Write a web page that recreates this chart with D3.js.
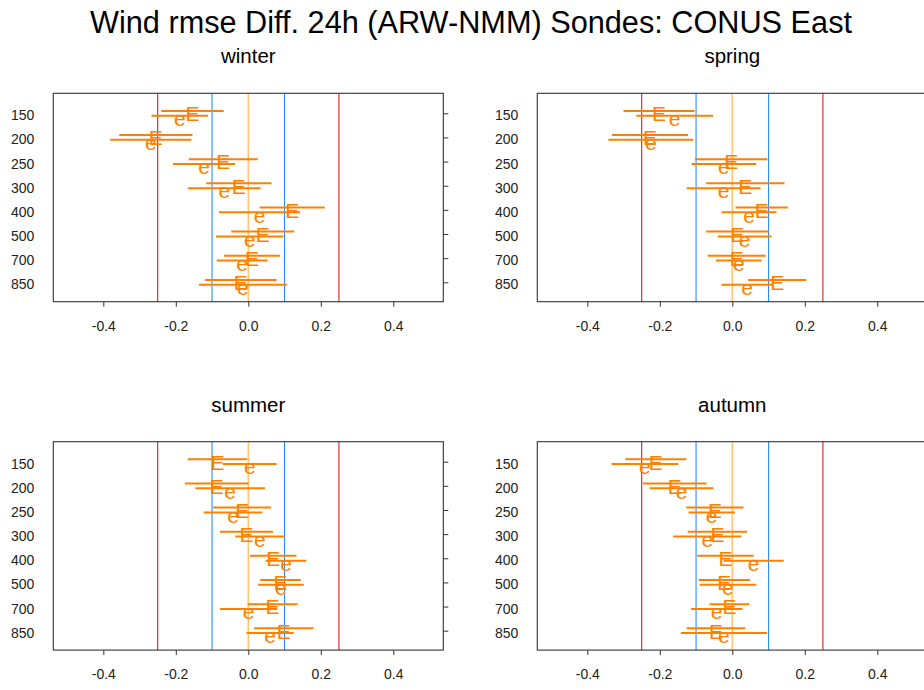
<!DOCTYPE html>
<html><head><meta charset="utf-8">
<script src="https://cdn.jsdelivr.net/npm/d3@7"></script>
<style>
html,body{margin:0;padding:0;background:#fff;}
svg{display:block;font-family:"Liberation Sans",Arial,sans-serif;}
</style></head>
<body><svg id="chart" width="924" height="690"></svg>
<script>
const title = "Wind rmse Diff. 24h (ARW-NMM) Sondes: CONUS East";
const levels = ["150","200","250","300","400","500","700","850"];
const seasons = ["winter","spring","summer","autumn"];
const xTicks = [-0.4,-0.2,0,0.2,0.4];
const xTickLabels = ["-0.4","-0.2","0.0","0.2","0.4"];
const refLines = [-0.25,-0.1,0,0.1,0.25];

// "E" series (centre and half-width of error bar)
const winterE   = [-0.154,-0.255,-0.069,-0.026,0.121,0.040,0.010,-0.021];
const winterEhw = [0.086,0.101,0.095,0.090,0.090,0.087,0.077,0.099];
const springE   = [-0.202,-0.227,-0.003,0.036,0.081,0.014,0.012,0.124];
const springEhw = [0.098,0.105,0.100,0.108,0.072,0.086,0.080,0.080];
const summerE   = [-0.085,-0.087,-0.017,-0.005,0.069,0.089,0.067,0.098];
const summerEhw = [0.082,0.088,0.080,0.073,0.064,0.056,0.069,0.082];
const autumnE   = [-0.211,-0.159,-0.048,-0.041,-0.019,-0.022,-0.008,-0.045];
const autumnEhw = [0.084,0.088,0.079,0.082,0.078,0.071,0.055,0.081];

// "e" series
const winter_e   = [-0.189,-0.269,-0.122,-0.066,0.031,0.004,-0.017,-0.015];
const winter_ehw = [0.078,0.112,0.086,0.100,0.112,0.093,0.070,0.121];
const spring_e   = [-0.159,-0.225,-0.023,-0.024,0.046,0.034,0.018,0.041];
const spring_ehw = [0.106,0.117,0.089,0.102,0.076,0.074,0.063,0.071];
const summer_e   = [0.004,-0.050,-0.042,0.032,0.104,0.090,0.001,0.060];
const summer_ehw = [0.074,0.096,0.081,0.068,0.056,0.063,0.079,0.065];
const autumn_e   = [-0.241,-0.140,-0.057,-0.069,0.059,-0.012,-0.043,-0.023];
const autumn_ehw = [0.092,0.088,0.064,0.094,0.083,0.078,0.071,0.119];

const panelData = {
  winter: {E: winterE, Ehw: winterEhw, e: winter_e, ehw: winter_ehw},
  spring: {E: springE, Ehw: springEhw, e: spring_e, ehw: spring_ehw},
  summer: {E: summerE, Ehw: summerEhw, e: summer_e, ehw: summer_ehw},
  autumn: {E: autumnE, Ehw: autumnEhw, e: autumn_e, ehw: autumn_ehw}
};

const svg = d3.select("#chart");
svg.append("text").attr("x", 471).attr("y", 32.5).attr("text-anchor","middle")
  .attr("font-size", 31).attr("fill","#000")
  .attr("textLength", 762).attr("lengthAdjust","spacingAndGlyphs").text(title);

const boxW = 390, boxH = 208.4;
const origins = [[53.3,93.3],[537.3,93.3],[53.3,441.7],[537.3,441.7]];
const refColor = v => Math.abs(v) === 0.25 ? "#d82020" : (v === 0 ? "#ffc47a" : "#2b8cff");
const markCol = "#ff8000";

seasons.forEach((s, i) => {
  const [x0, y0] = origins[i];
  const d = panelData[s];
  const x = d3.scaleLinear().domain([-0.538, 0.538]).range([x0, x0 + boxW]);
  const y = d3.scaleLinear().domain([0, 7]).range([y0 + 20, y0 + boxH - 19.4]);
  const g = svg.append("g");

  g.append("text").attr("x", x(0)).attr("y", y0 - 30).attr("text-anchor","middle")
    .attr("font-size", 20.5).attr("fill","#000").text(s);

  refLines.forEach(v => {
    g.append("line").attr("x1", x(v)).attr("x2", x(v)).attr("y1", y0).attr("y2", y0 + boxH)
      .attr("stroke", refColor(v)).attr("stroke-width", v === 0 ? 1.6 : 1.1);
  });

  const rows = levels.map((l, k) => ({k, E: d.E[k], Ehw: d.Ehw[k], e: d.e[k], ehw: d.ehw[k]}));
  const off = 0.1;
  // bars
  g.selectAll(".barE").data(rows).join("line")
    .attr("x1", r => x(r.E - r.Ehw)).attr("x2", r => x(r.E + r.Ehw))
    .attr("y1", r => y(r.k - off)).attr("y2", r => y(r.k - off))
    .attr("stroke", markCol).attr("stroke-width", 2);
  g.selectAll(".bare").data(rows).join("line")
    .attr("x1", r => x(r.e - r.ehw)).attr("x2", r => x(r.e + r.ehw))
    .attr("y1", r => y(r.k + off)).attr("y2", r => y(r.k + off))
    .attr("stroke", markCol).attr("stroke-width", 2);
  // letters
  g.selectAll(".lE").data(rows).join("text")
    .attr("x", r => x(r.E)).attr("y", r => y(r.k - off) + 10.3)
    .attr("text-anchor","middle").attr("font-size", 21).attr("fill", markCol).text("E");
  g.selectAll(".le").data(rows).join("text")
    .attr("x", r => x(r.e)).attr("y", r => y(r.k + off) + 10.3)
    .attr("text-anchor","middle").attr("font-size", 21).attr("fill", markCol).text("e");

  // frame
  g.append("rect").attr("x", x0).attr("y", y0).attr("width", boxW).attr("height", boxH)
    .attr("fill","none").attr("stroke","#333").attr("stroke-width", 1.1);

  // bottom axis
  const ax = g.append("g").attr("transform", `translate(0,${y0 + boxH})`)
    .call(d3.axisBottom(x).tickValues(xTicks).tickSize(5).tickPadding(14)
      .tickFormat((v, j) => xTickLabels[j]));
  ax.select(".domain").remove();
  ax.selectAll("text").attr("font-size", 14).attr("fill","#222")
    .attr("font-family", "Liberation Sans, Arial, sans-serif");
  ax.selectAll("line").attr("stroke","#333");

  // right ticks
  const ar = g.append("g").attr("transform", `translate(${x0 + boxW},0)`)
    .call(d3.axisRight(y).tickValues(d3.range(8)).tickSize(5).tickFormat(""));
  ar.select(".domain").remove();
  ar.selectAll("line").attr("stroke","#333");

  // left labels
  g.selectAll(".yl").data(levels).join("text")
    .attr("x", x0 - 19).attr("y", (l, k) => y(k) + 7)
    .attr("text-anchor","end").attr("font-size", 14).attr("fill","#222").text(l => l);
});
</script></body></html>
